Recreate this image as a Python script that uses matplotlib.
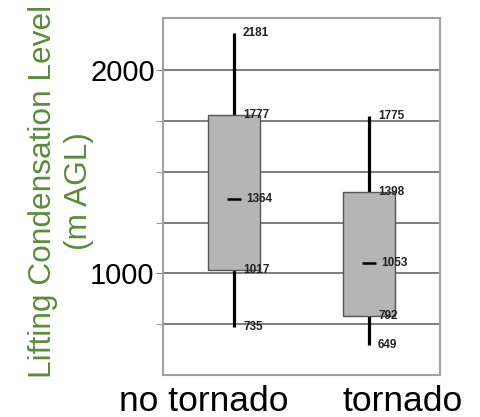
import matplotlib.pyplot as plt
import matplotlib.transforms as mtransforms
from matplotlib.ticker import FixedLocator

plt.rcParams['font.family'] = ['Liberation Sans', 'DejaVu Sans']

# Lifting condensation level stats (m AGL)
groups = ['no tornado', 'tornado']
whisker_low = [735, 649]
q1 = [1017, 792]
median = [1364, 1053]
q3 = [1777, 1398]
whisker_high = [2181, 1775]

pos = list(range(len(groups)))

fig = plt.figure(figsize=(4.81, 4.17), dpi=100)
ax = fig.add_axes([0.339, 0.1007, 0.576, 0.856])

# whiskers
ax.vlines(pos, whisker_low, q1, color='black', lw=2.3, zorder=2)
ax.vlines(pos, q3, whisker_high, color='black', lw=2.3, zorder=2)

# boxes
ax.bar(pos, [h - l for h, l in zip(q3, q1)], bottom=q1, width=0.39,
       color='#b5b5b5', edgecolor='#555555', linewidth=1.0, zorder=3)

# median marks
ax.hlines(median, [p - 0.05 for p in pos], [p + 0.05 for p in pos],
          color='black', lw=1.8, zorder=4)

# value labels
for i, p in enumerate(pos):
    for v in (whisker_low[i], q1[i], median[i], q3[i], whisker_high[i]):
        dx = 9 if v == median[i] else 6.5
        ax.annotate(str(v), (p, v), xytext=(dx, 0), textcoords='offset points',
                    ha='left', va='center', fontsize=8.5, fontweight='bold',
                    color='#222222', zorder=5)

ax.set_xlim(-0.526, 1.526)
ax.set_ylim(500, 2256)

ax.yaxis.set_major_locator(FixedLocator([1000, 2000]))
ax.yaxis.set_minor_locator(FixedLocator([750, 1250, 1500, 1750]))
ax.yaxis.grid(True, which='both', color='#666666', lw=1.2, zorder=0)
ax.set_axisbelow(True)
ax.tick_params(axis='y', which='both', length=5, color='#888888', labelsize=21, pad=1)

ax.set_xticks(pos)
ax.set_xticklabels(groups, fontsize=25.5)
ax.tick_params(axis='x', length=0, pad=7)
shifts = [-30, 34]
for lbl, s in zip(ax.get_xticklabels(), shifts):
    lbl.set_transform(lbl.get_transform() + mtransforms.ScaledTranslation(s / 100, 0, fig.dpi_scale_trans))

for sp in ax.spines.values():
    sp.set_color('#a0a0a0')
    sp.set_linewidth(1.5)

ax.set_ylabel('Lifting Condensation Level\n(m AGL)', color='#5b8c3a',
              fontsize=22.8, multialignment='center', linespacing=1.25)
ax.yaxis.set_label_coords(-0.25, 0.514)

plt.savefig('out.png', dpi=100)
